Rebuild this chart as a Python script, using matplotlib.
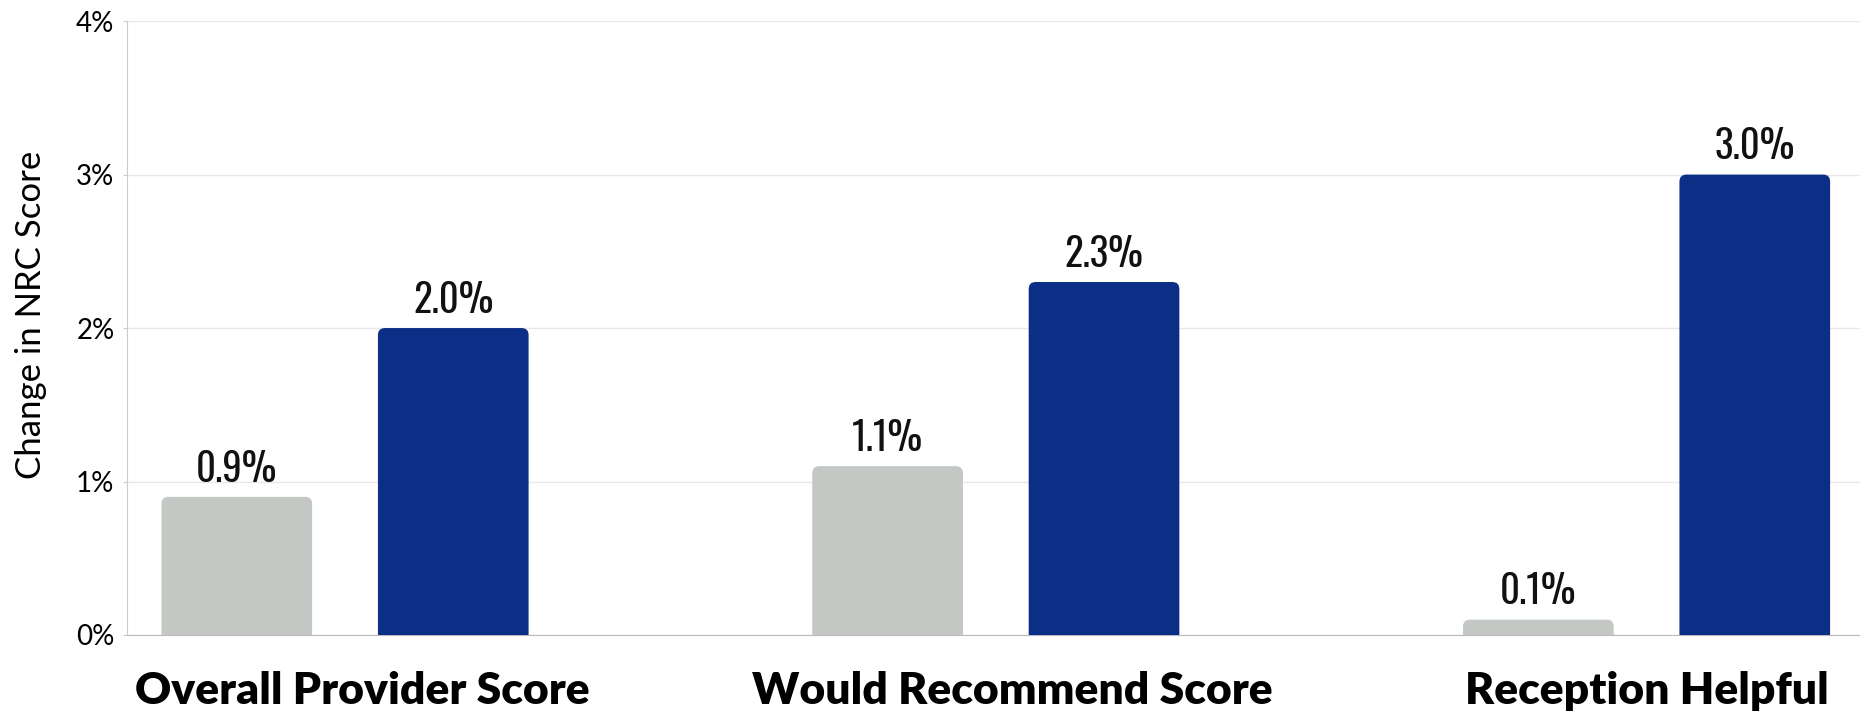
import matplotlib
matplotlib.use("Agg")
import matplotlib.pyplot as plt
import matplotlib.transforms as mtransforms
import numpy as np
from matplotlib.patches import FancyBboxPatch

# data
categories = ["Overall Provider Score", "Would Recommend Score", "Reception Helpful"]
before_vals = [0.9, 1.1, 0.1]
after_vals = [2.0, 2.3, 3.0]
y_ticks = [0, 1, 2, 3, 4]

grey = "#c3c8c4"
blue = "#0b2e86"
narrow = ["Oswald", "Roboto Condensed", "Liberation Sans Narrow", "DejaVu Sans"]

fig = plt.figure(figsize=(18.6, 7.13), dpi=100)
ax = fig.add_axes([0.0683, 0.1094, 0.9317, 0.861])

x = np.arange(len(categories))
w = 0.2315
off = 0.1663
b1 = ax.bar(x - off, before_vals, w, color=grey, zorder=3)
b2 = ax.bar(x + off, after_vals, w, color=blue, zorder=3)

ax.set_xlim(-0.335, 2.328)
ax.set_ylim(0, 4)

# rounded tops: swap each bar for a rounded box that dips under the axis
px_x = 1.0 / (ax.transData.transform((1, 0))[0] - ax.transData.transform((0, 0))[0])
px_y = 1.0 / (ax.transData.transform((0, 1))[1] - ax.transData.transform((0, 0))[1])
r = 7 * px_x
for bars in (b1, b2):
    for p in bars:
        bx, by = p.get_x(), p.get_y()
        bw, bh = p.get_width(), p.get_height()
        p.set_visible(False)
        ext = 10 * px_y
        fb = FancyBboxPatch((bx, by - ext), bw, bh + ext,
                            boxstyle="round,pad=0,rounding_size=%f" % r,
                            mutation_aspect=px_y / px_x,
                            facecolor=p.get_facecolor(), edgecolor="none",
                            zorder=3, clip_on=True)
        ax.add_patch(fb)

for bars in (b1, b2):
    ax.bar_label(bars, labels=["%.1f%%" % v for v in bars.datavalues],
                 padding=6, fontsize=28, family=narrow, fontstretch="condensed",
                 color="#111111")

ax.set_yticks(y_ticks)
ax.set_yticklabels(["%d%%" % t for t in y_ticks], family="Lato", fontsize=20)
ax.yaxis.grid(True, color="#e8e8e8", linewidth=1, zorder=0)
ax.tick_params(axis="y", length=3, color="#cccccc", pad=6)

ax.set_xticks(x)
ax.set_xticklabels(categories, family="Lato", fontweight="heavy", fontsize=32)
ax.tick_params(axis="x", length=0, pad=26)
# first two labels sit a bit right of the group centre in the original
shift = mtransforms.ScaledTranslation(0.17, 0, fig.dpi_scale_trans)
for lbl in ax.get_xticklabels()[:2]:
    lbl.set_transform(lbl.get_transform() + shift)

ax.set_ylabel("Change in NRC Score", family="Lato", fontsize=25)
ax.yaxis.set_label_coords(-0.046, 0.522)

for s in ["top", "right"]:
    ax.spines[s].set_visible(False)
ax.spines["left"].set_color("#cccccc")
ax.spines["bottom"].set_color("#bbbbbb")

plt.savefig("out.png", dpi=100)
